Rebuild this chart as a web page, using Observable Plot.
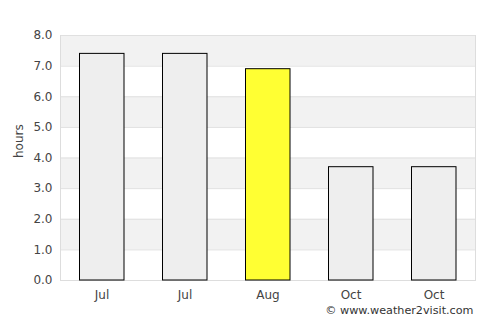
<!DOCTYPE html>
<html>
<head>
<meta charset="utf-8">
<script src="https://cdn.jsdelivr.net/npm/d3@7"></script>
<script src="https://cdn.jsdelivr.net/npm/@observablehq/plot@0.6"></script>
<style>
  html, body { margin: 0; padding: 0; background: #fff; }
  #chart { width: 500px; height: 325px; }
</style>
</head>
<body>
<div id="chart"></div>
<script>
const months = ["Jul", "Jul", "Aug", "Oct", "Oct"];
const hours = [7.4, 7.4, 6.9, 3.7, 3.7];
const highlight = [false, false, true, false, false];
const yTicks = [0, 1, 2, 3, 4, 5, 6, 7, 8];
const bandStarts = [1, 3, 5, 7];

const data = months.map((m, i) => ({ i, month: m, value: hours[i], hl: highlight[i] }));
const bands = bandStarts.map(b => ({ y1: b, y2: b + 1 }));

const chart = Plot.plot({
  width: 500,
  height: 325,
  marginLeft: 60,
  marginRight: 25,
  marginTop: 35,
  marginBottom: 45,
  style: { fontFamily: "DejaVu Sans", fontSize: "11px", color: "#444", background: "#fff" },
  x: { type: "band", domain: data.map(d => d.i), padding: 0, label: null },
  y: { domain: [0, 8], label: null },
  marks: [
    Plot.rect(bands, { y1: "y1", y2: "y2", fill: "#f2f2f2" }),
    Plot.ruleY(yTicks, { stroke: "#e0e0e0" }),
    Plot.frame({ stroke: "#ddd", anchor: "left" }),
    Plot.frame({ stroke: "#ddd", anchor: "right" }),
    Plot.frame({ stroke: "#ddd", anchor: "bottom" }),
    Plot.barY(data, {
      x: "i", y: "value",
      fill: d => d.hl ? "#ffff33" : "#eeeeee",
      stroke: "#000", strokeWidth: 1,
      insetLeft: 19.5, insetRight: 19
    }),
    Plot.axisY({ ticks: yTicks, tickFormat: d => d.toFixed(1), tickSize: 0, tickPadding: 8, fontSize: 12, label: null }),
    Plot.axisX({ tickFormat: i => months[i], tickSize: 0, tickPadding: 10, fontSize: 12, label: null }),
    Plot.text(["hours"], { text: d => d, frameAnchor: "left", rotate: -90, dx: -41, fontSize: 12, fill: "#444" }),
    Plot.text(["© www.weather2visit.com"], { text: d => d, frameAnchor: "bottom-right", dy: 33, dx: -2, textAnchor: "end", fontSize: 11.2, fill: "#333" })
  ]
});
document.getElementById("chart").appendChild(chart);
</script>
</body>
</html>
